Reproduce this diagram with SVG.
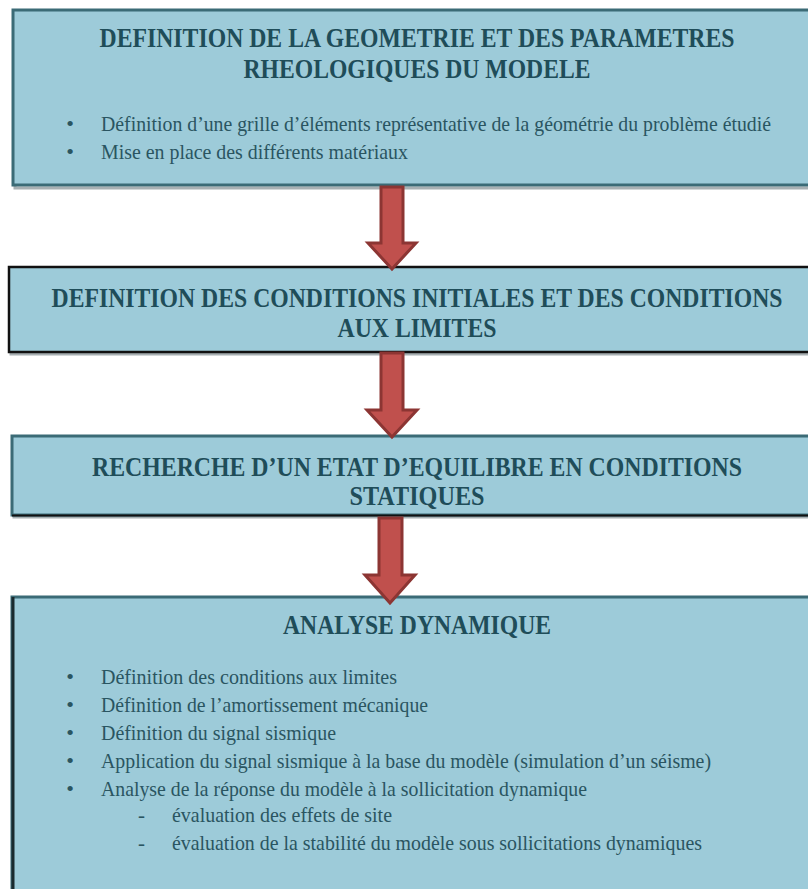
<svg xmlns="http://www.w3.org/2000/svg" width="808" height="889" viewBox="0 0 808 889">
<defs>
<style>
.box{fill:#9dcbd9;}
.shadow{fill:none;stroke:#6e7c80;stroke-width:3;opacity:0.6;}
.bt{stroke:#3b6b76;stroke-width:3;}
.bk{stroke:#111;stroke-width:2.5;}
.title{font-family:"Liberation Serif","Times New Roman",serif;font-weight:bold;font-size:27px;fill:#1f4d59;text-anchor:middle;}
.body{font-family:"Liberation Serif","Times New Roman",serif;font-size:21px;fill:#2a5561;}
.bul{font-family:"Liberation Serif",serif;font-size:22px;fill:#2a5561;text-anchor:middle;}
.arrow{fill:#c0504d;stroke:#8c3533;stroke-width:3;stroke-linejoin:miter;}
</style>
</defs>
<rect width="808" height="889" fill="#ffffff"/>

<g id="node1">
<rect class="shadow" x="15" y="12" width="820" height="176"/>
<rect class="box bt" x="13" y="10" width="820" height="175"/>
<text class="title" x="417" y="47" textLength="635" lengthAdjust="spacingAndGlyphs">DEFINITION DE LA GEOMETRIE ET DES PARAMETRES</text>
<text class="title" x="417" y="78" textLength="347" lengthAdjust="spacingAndGlyphs">RHEOLOGIQUES DU MODELE</text>
<text class="bul" x="70" y="131">•</text>
<text class="body" x="101" y="131" textLength="670" lengthAdjust="spacingAndGlyphs">Définition d’une grille d’éléments représentative de la géométrie du problème étudié</text>
<text class="bul" x="70" y="159">•</text>
<text class="body" x="101" y="159" textLength="307" lengthAdjust="spacingAndGlyphs">Mise en place des différents matériaux</text>
</g>

<g id="node2">
<rect class="shadow" x="11" y="269" width="820" height="85"/>
<rect class="box bk" x="9" y="267" width="820" height="85"/>
<text class="title" x="417" y="307" textLength="731" lengthAdjust="spacingAndGlyphs">DEFINITION DES CONDITIONS INITIALES ET DES CONDITIONS</text>
<text class="title" x="417" y="337" textLength="159" lengthAdjust="spacingAndGlyphs">AUX LIMITES</text>
</g>

<g id="node3">
<rect class="shadow" x="14" y="438" width="820" height="79"/>
<rect class="box bt" x="12" y="436" width="820" height="79"/>
<line x1="12" y1="515.5" x2="808" y2="515.5" stroke="#111" stroke-width="2"/>
<text class="title" x="417" y="476" textLength="650" lengthAdjust="spacingAndGlyphs">RECHERCHE D’UN ETAT D’EQUILIBRE EN CONDITIONS</text>
<text class="title" x="417" y="505" textLength="135" lengthAdjust="spacingAndGlyphs">STATIQUES</text>
</g>

<g id="node4">
<rect class="box bt" x="12" y="597" width="820" height="320"/>
<line x1="13" y1="597" x2="13" y2="889" stroke="#1a2a2e" stroke-width="3"/>
<text class="title" x="417" y="634" textLength="268" lengthAdjust="spacingAndGlyphs">ANALYSE DYNAMIQUE</text>
<text class="bul" x="70" y="684">•</text>
<text class="body" x="101" y="684" textLength="296" lengthAdjust="spacingAndGlyphs">Définition des conditions aux limites</text>
<text class="bul" x="70" y="712">•</text>
<text class="body" x="101" y="712" textLength="327" lengthAdjust="spacingAndGlyphs">Définition de l’amortissement mécanique</text>
<text class="bul" x="70" y="740">•</text>
<text class="body" x="101" y="740" textLength="235" lengthAdjust="spacingAndGlyphs">Définition du signal sismique</text>
<text class="bul" x="70" y="768">•</text>
<text class="body" x="101" y="768" textLength="610" lengthAdjust="spacingAndGlyphs">Application du signal sismique à la base du modèle (simulation d’un séisme)</text>
<text class="bul" x="70" y="796">•</text>
<text class="body" x="101" y="796" textLength="486" lengthAdjust="spacingAndGlyphs">Analyse de la réponse du modèle à la sollicitation dynamique</text>
<text class="body" x="138" y="822">-</text>
<text class="body" x="172" y="822" textLength="220" lengthAdjust="spacingAndGlyphs">évaluation des effets de site</text>
<text class="body" x="138" y="850">-</text>
<text class="body" x="172" y="850" textLength="530" lengthAdjust="spacingAndGlyphs">évaluation de la stabilité du modèle sous sollicitations dynamiques</text>
</g>

<g id="connectors">
<polygon class="arrow" points="381,187 403,187 403,243 416,243 392,269 368,243 381,243"/>
<polygon class="arrow" points="381,353 403,353 403,410 417,410 392,437 367,410 381,410"/>
<polygon class="arrow" points="379,518 402,518 402,575 415,575 390,603 365,575 379,575"/>
</g>
</svg>
